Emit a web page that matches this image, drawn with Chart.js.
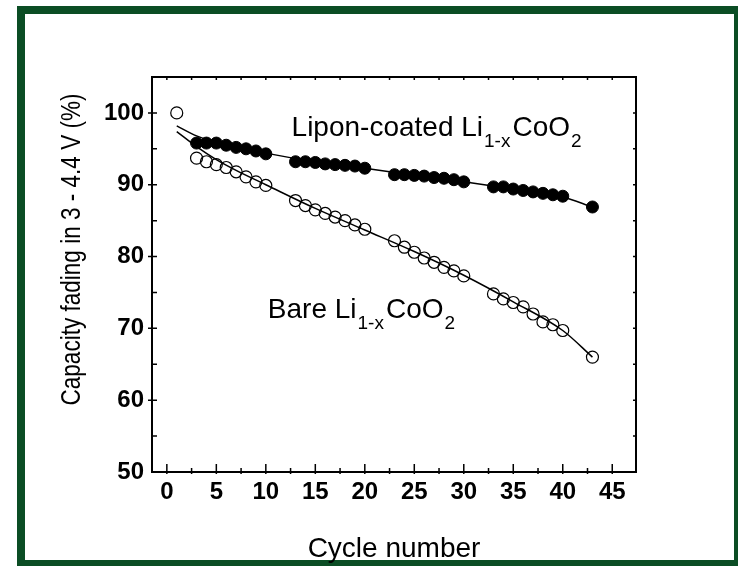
<!DOCTYPE html>
<html>
<head>
<meta charset="utf-8">
<script src="https://cdn.jsdelivr.net/npm/chart.js@4.4.0/dist/chart.umd.min.js"></script>
<style>
    html, body { margin: 0; padding: 0; background: #fff; overflow: hidden; }
    body { width: 738px; height: 566px; position: relative; }
    #frame { position: absolute; left: 17px; top: 6px; width: 725px; height: 562px; border: 8px solid #0b4d24; box-sizing: border-box; }
    #wrap { position: absolute; left: 0; top: 0; width: 738px; height: 566px; }
</style>
</head>
<body>
<div id="frame"></div>
<div id="wrap"><canvas id="fadeChart" width="738" height="566"></canvas></div>
<script>
// cycle numbers and capacity (%)
const liponCycles = [3, 4, 5, 6, 7, 8, 9, 10, 13, 14, 15, 16, 17, 18, 19, 20, 23, 24, 25, 26, 27, 28, 29, 30, 33, 34, 35, 36, 37, 38, 39, 40, 43];
const liponCapacity = [95.8, 95.8, 95.8, 95.5, 95.2, 95.0, 94.7, 94.3, 93.2, 93.2, 93.1, 92.9, 92.8, 92.7, 92.6, 92.3, 91.4, 91.4, 91.3, 91.2, 91.0, 90.9, 90.7, 90.4, 89.7, 89.7, 89.4, 89.2, 89.0, 88.8, 88.6, 88.4, 86.9];

const bareCycles = [1, 3, 4, 5, 6, 7, 8, 9, 10, 13, 14, 15, 16, 17, 18, 19, 20, 23, 24, 25, 26, 27, 28, 29, 30, 33, 34, 35, 36, 37, 38, 39, 40, 43];
const bareCapacity = [100.0, 93.7, 93.2, 92.8, 92.4, 91.8, 91.1, 90.4, 89.9, 87.8, 87.1, 86.5, 86.0, 85.5, 85.0, 84.4, 83.8, 82.2, 81.3, 80.6, 79.8, 79.2, 78.5, 78.0, 77.3, 74.8, 74.1, 73.6, 73.0, 72.0, 70.9, 70.5, 69.7, 66.0];

// fitted curves
const fitCycles = [1, 3, 5, 7, 10, 15, 20, 25, 30, 35, 40, 43];
const liponFit = [98.2, 96.8, 95.9, 95.3, 94.4, 93.2, 92.3, 91.3, 90.4, 89.4, 88.3, 86.9];
const bareFit = [97.4, 95.3, 93.5, 92.0, 90.0, 86.7, 83.7, 80.7, 77.4, 73.7, 69.7, 66.0];

const xTickValues = [0, 5, 10, 15, 20, 25, 30, 35, 40, 45];
const yTickValues = [50, 60, 70, 80, 90, 100];

const FONT = '"Liberation Sans", Arial, sans-serif';
const yTitle = 'Capacity fading in 3 - 4.4 V (%)';

function toPoints(xs, ys) {
    return xs.map((x, i) => ({ x: x, y: ys[i] }));
}

// writes text like Li(1-x)CoO(2) with subscripts
function drawFormula(ctx, x0, y0, parts) {
    let cx = x0;
    parts.forEach(([txt, sub]) => {
        ctx.font = sub ? '19px ' + FONT : '28px ' + FONT;
        if (sub) cx += 1;
        ctx.fillText(txt, cx, sub ? y0 + 11 : y0);
        cx += ctx.measureText(txt).width + (sub ? 2 : 0);
    });
}

const frameAndLabels = {
    id: 'frameAndLabels',
    afterDatasetsDraw(chart) {
        const { ctx, chartArea: a, scales: { x, y } } = chart;
        ctx.save();
        ctx.strokeStyle = '#000';
        ctx.lineWidth = 2;
        ctx.strokeRect(a.left, a.top, a.right - a.left, a.bottom - a.top);

        // inward ticks on all four sides
        ctx.lineWidth = 1.5;
        ctx.beginPath();
        const xStep = xTickValues[1] - xTickValues[0];
        const xAll = [];
        xTickValues.forEach(v => {
            xAll.push([v, true]);
            xAll.push([v + xStep / 2, false]);
            xAll.push([v - xStep / 2, false]);
        });
        xAll.forEach(([v, major]) => {
            if (v <= x.min || v >= x.max) return;
            const px = x.getPixelForValue(v);
            ctx.moveTo(px, a.bottom + 2);
            ctx.lineTo(px, a.bottom - (major ? 8 : 4));
            ctx.moveTo(px, a.top);
            ctx.lineTo(px, a.top + 3);
        });
        const yStep = yTickValues[1] - yTickValues[0];
        yTickValues.forEach(v => {
            [[v, true], [v + yStep / 2, false]].forEach(([val, major]) => {
                if (val <= y.min || val >= y.max) return;
                const py = y.getPixelForValue(val);
                ctx.moveTo(a.left - (major ? 4 : 0), py);
                ctx.lineTo(a.left + 5, py);
                ctx.moveTo(a.right, py);
                ctx.lineTo(a.right - 3, py);
            });
        });
        ctx.stroke();

        // y title, squeezed along its length like the original
        ctx.fillStyle = '#000';
        ctx.save();
        ctx.font = '28px ' + FONT;
        ctx.translate(72, (a.top + a.bottom) / 2 - 25);
        ctx.rotate(-Math.PI / 2);
        ctx.scale(0.805, 1);
        ctx.textAlign = 'center';
        ctx.textBaseline = 'middle';
        ctx.fillText(yTitle, 0, 0);
        ctx.restore();

        // series labels
        ctx.textBaseline = 'alphabetic';
        ctx.textAlign = 'left';
        drawFormula(ctx, x.getPixelForValue(12.6), y.getPixelForValue(96.8),
            [['Lipon-coated Li', false], ['1-x', true], ['CoO', false], ['2', true]]);
        drawFormula(ctx, x.getPixelForValue(10.2), y.getPixelForValue(71.4),
            [['Bare Li', false], ['1-x', true], ['CoO', false], ['2', true]]);
        ctx.restore();
    }
};

const ctx = document.getElementById('fadeChart').getContext('2d');
new Chart(ctx, {
    type: 'scatter',
    data: {
        datasets: [
            {
                label: 'Lipon fit',
                data: toPoints(fitCycles, liponFit),
                showLine: true,
                borderColor: '#000',
                borderWidth: 1.5,
                pointRadius: 0,
                cubicInterpolationMode: 'monotone'
            },
            {
                label: 'Bare fit',
                data: toPoints(fitCycles, bareFit),
                showLine: true,
                borderColor: '#000',
                borderWidth: 1.5,
                pointRadius: 0,
                cubicInterpolationMode: 'monotone'
            },
            {
                label: 'Lipon-coated',
                data: toPoints(liponCycles, liponCapacity),
                pointRadius: 6,
                pointBackgroundColor: '#000',
                pointBorderColor: '#000',
                pointBorderWidth: 1
            },
            {
                label: 'Bare',
                data: toPoints(bareCycles, bareCapacity),
                pointRadius: 6,
                pointBackgroundColor: 'rgba(0,0,0,0)',
                pointBorderColor: '#000',
                pointBorderWidth: 1.2
            }
        ]
    },
    options: {
        responsive: false,
        animation: false,
        layout: { padding: { left: 0, top: 77, right: 102, bottom: 0 } },
        plugins: {
            legend: { display: false },
            tooltip: { enabled: false }
        },
        scales: {
            x: {
                type: 'linear',
                min: -1.5,
                max: 47.4,
                afterFit: s => { s.height = 94; },
                afterBuildTicks: s => { s.ticks = xTickValues.map(v => ({ value: v })); },
                grid: { display: false, drawTicks: false },
                border: { display: false },
                ticks: {
                    autoSkip: false,
                    maxRotation: 0,
                    padding: 6,
                    color: '#000',
                    font: { family: FONT, size: 24, weight: 'bold' }
                },
                title: {
                    display: true,
                    text: 'Cycle number',
                    color: '#000',
                    font: { family: FONT, size: 28 },
                    padding: { top: 0, bottom: 0 }
                }
            },
            y: {
                min: 50,
                max: 105,
                afterFit: s => { s.width = 152; },
                afterBuildTicks: s => { s.ticks = yTickValues.map(v => ({ value: v })); },
                grid: { display: false, drawTicks: false },
                border: { display: false },
                ticks: {
                    padding: 8,
                    color: '#000',
                    font: { family: FONT, size: 24, weight: 'bold' }
                }
            }
        }
    },
    plugins: [frameAndLabels]
});
</script>
</body>
</html>
